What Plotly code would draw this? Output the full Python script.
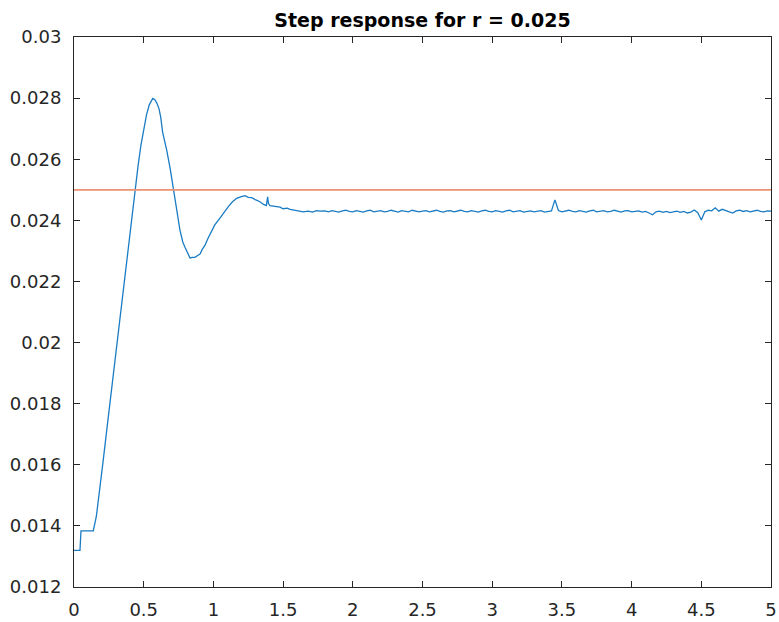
import numpy as np
import plotly.graph_objects as go

# ---- data ----
t_transient = [0.000, 0.043, 0.050, 0.057, 0.138, 0.160, 0.180, 0.210, 0.240, 0.270,
               0.300, 0.330, 0.360, 0.390, 0.420, 0.440, 0.460, 0.480, 0.500, 0.520,
               0.540, 0.555, 0.565, 0.580, 0.595, 0.610, 0.622, 0.636, 0.650, 0.665,
               0.689, 0.712, 0.737, 0.760, 0.780, 0.796, 0.815, 0.832, 0.850, 0.868,
               0.890, 0.904, 0.920, 0.940, 0.960, 0.988, 1.010, 1.047, 1.070, 1.107,
               1.135, 1.167, 1.195, 1.227, 1.250, 1.275, 1.300, 1.334, 1.360, 1.380,
               1.389, 1.395, 1.406, 1.440, 1.478, 1.500, 1.530, 1.550, 1.580, 1.610,
               1.645, 1.680, 1.710, 1.740, 1.765]
y_transient = [0.01320, 0.01320, 0.01384, 0.01384, 0.01384, 0.01430, 0.01500, 0.01616, 0.01733, 0.01850,
               0.01967, 0.02084, 0.02200, 0.02317, 0.02432, 0.02508, 0.02580, 0.02645, 0.02700, 0.02745,
               0.02778, 0.02794, 0.02799, 0.02795, 0.02783, 0.02765, 0.02738, 0.02688, 0.02662, 0.02630,
               0.02572, 0.02500, 0.02434, 0.02368, 0.02330, 0.02312, 0.02290, 0.02277, 0.02279, 0.02279,
               0.02286, 0.02290, 0.02305, 0.02319, 0.02340, 0.02368, 0.02385, 0.02407, 0.02423, 0.02445,
               0.02460, 0.02472, 0.02477, 0.02481, 0.02475, 0.02474, 0.02468, 0.02461, 0.02452, 0.02448,
               0.02477, 0.02455, 0.02448, 0.02446, 0.02443, 0.02438, 0.02440, 0.02436, 0.02433, 0.02432,
               0.02428, 0.02430, 0.02427, 0.02432, 0.02430]

ss_start = 1.8
ss_dt = 0.025
y_steady = [
    0.02431, 0.02428, 0.02432, 0.02429, 0.02427, 0.02431, 0.02433, 0.02429, 0.02428, 0.02432,
    0.02430, 0.02427, 0.02431, 0.02433, 0.02428, 0.02430, 0.02432, 0.02428, 0.02429, 0.02433,
    0.02429, 0.02427, 0.02432, 0.02430, 0.02428, 0.02433, 0.02431, 0.02428, 0.02430, 0.02432,
    0.02428, 0.02431, 0.02433, 0.02429, 0.02427, 0.02431, 0.02432, 0.02428, 0.02430, 0.02433,
    0.02429, 0.02428, 0.02432, 0.02430, 0.02427, 0.02431, 0.02433, 0.02429, 0.02428, 0.02432,
    0.02430, 0.02427, 0.02431, 0.02433, 0.02428, 0.02430, 0.02432, 0.02427, 0.02429, 0.02431,
    0.02428, 0.02430, 0.02432, 0.02427, 0.02429, 0.02431, 0.02467, 0.02432, 0.02428, 0.02431,
    0.02433, 0.02429, 0.02428, 0.02432, 0.02430, 0.02427, 0.02431, 0.02433, 0.02428, 0.02430,
    0.02432, 0.02428, 0.02429, 0.02433, 0.02429, 0.02427, 0.02431, 0.02432, 0.02428, 0.02430,
    0.02431, 0.02427, 0.02429, 0.02424, 0.02418, 0.02428, 0.02430, 0.02426, 0.02429, 0.02425,
    0.02428, 0.02430, 0.02426, 0.02429, 0.02424, 0.02427, 0.02434, 0.02425, 0.02401, 0.02428,
    0.02433, 0.02431, 0.02441, 0.02430, 0.02436, 0.02432, 0.02428, 0.02424, 0.02431, 0.02433,
    0.02429, 0.02432, 0.02428, 0.02431, 0.02433, 0.02429, 0.02428, 0.02431, 0.02430,
]
t_steady = list(np.round(ss_start + ss_dt * np.arange(len(y_steady)), 4))

reference_t = [0, 5]
reference_y = [0.025, 0.025]

x_ticks = [0, 0.5, 1, 1.5, 2, 2.5, 3, 3.5, 4, 4.5, 5]
x_tick_text = ["0", "0.5", "1", "1.5", "2", "2.5", "3", "3.5", "4", "4.5", "5"]
y_ticks = [0.012, 0.014, 0.016, 0.018, 0.02, 0.022, 0.024, 0.026, 0.028, 0.03]
y_tick_text = ["0.012", "0.014", "0.016", "0.018", "0.02", "0.022", "0.024", "0.026", "0.028", "0.03"]

title_text = "Step response for r = 0.025"

# ---- figure ----
t_all = t_transient + t_steady
y_all = y_transient + y_steady

fig = go.Figure()
fig.add_trace(go.Scatter(x=t_all, y=y_all, mode="lines",
                         line=dict(color="#1A7CC4", width=1.3), showlegend=False))
fig.add_trace(go.Scatter(x=reference_t, y=reference_y, mode="lines",
                         line=dict(color="#EC9273", width=1.8), showlegend=False))

axis_common = dict(showgrid=False, zeroline=False, showline=True, linecolor="#262626",
                   linewidth=1, mirror="ticks", ticks="inside", ticklen=6,
                   tickcolor="#262626", tickwidth=1, automargin=False,
                   tickfont=dict(family="DejaVu Sans", size=18, color="#262626"))

fig.update_xaxes(range=[0, 5], tickvals=x_ticks, ticktext=x_tick_text,
                 ticklabelstandoff=6, **axis_common)
fig.update_yaxes(range=[0.012, 0.03], tickvals=y_ticks, ticktext=y_tick_text,
                 ticklabelstandoff=8, **axis_common)

fig.update_layout(
    width=779, height=622,
    margin=dict(l=74, r=8, t=37, b=35),
    paper_bgcolor="white", plot_bgcolor="white",
    title=dict(text=title_text, x=0.5, xref="paper", xanchor="center",
               y=1 - 20 / 622, yref="container", yanchor="middle",
               font=dict(family="DejaVu Sans", size=19, color="black", weight="bold")),
)

fig.write_html("out.html")
